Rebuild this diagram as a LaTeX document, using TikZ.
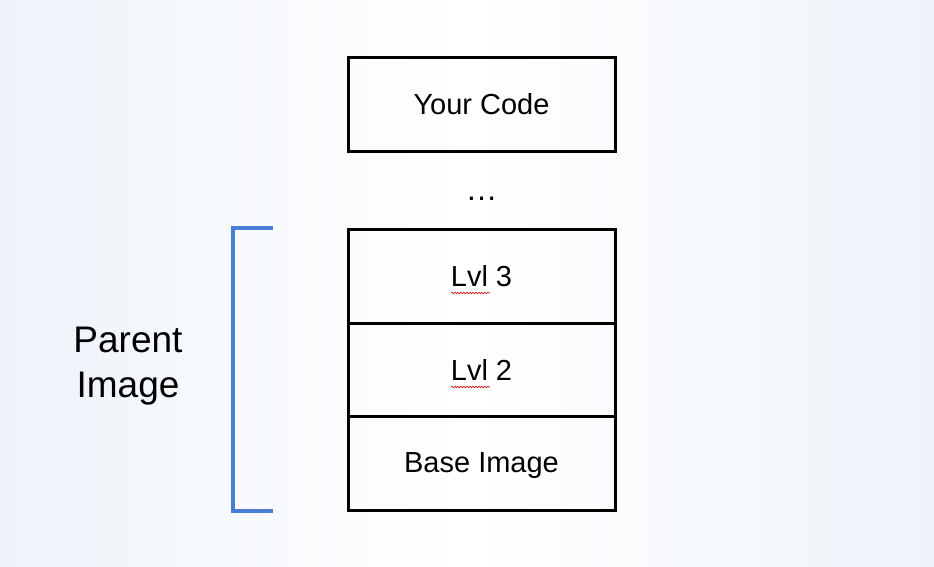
\documentclass[tikz,border=0pt]{standalone}
\usepackage{fontspec}
\setmainfont{Liberation Sans}
\usetikzlibrary{decorations.pathmorphing}
\definecolor{bracketblue}{RGB}{72,126,214}
\definecolor{edgeblue}{RGB}{238,243,250}
\begin{document}
\begin{tikzpicture}[x=1pt,y=-1pt,
  layer/.style={draw=black,line width=3pt,minimum width=267pt,minimum height=94pt,inner sep=0pt,text depth=0pt,font=\fontsize{29}{34}\selectfont},
  squiggle/.style={draw=red!80!black,line width=0.6pt,decorate,decoration={snake,amplitude=0.8pt,segment length=3pt}}]
\path[use as bounding box,left color=edgeblue,right color=edgeblue,middle color=white] (0,0) rectangle (934,566);
\node[layer] (code) at (481.5,104) {Your Code};
\node[font=\fontsize{32}{34}\selectfont] (dots) at (481.5,199) {…};
\node[layer] (l3) at (481.5,276) {Lvl 3};
\node[layer,minimum height=93pt] (l2) at (481.5,369.5) {Lvl 2};
\node[layer] (base) at (481.5,463) {Base Image};
\draw[squiggle] (451,293) -- (490,293);
\draw[squiggle] (451,387) -- (490,387);
\coordinate (bt) at (273,228);
\coordinate (bb) at (273,511);
\draw[bracketblue,line width=4pt] (bt) -- (233,228) -- (233,511) -- (bb);
\node[align=center,font=\fontsize{37}{45}\selectfont] (parent) at (128,366) {Parent\\Image};
\end{tikzpicture}
\end{document}
